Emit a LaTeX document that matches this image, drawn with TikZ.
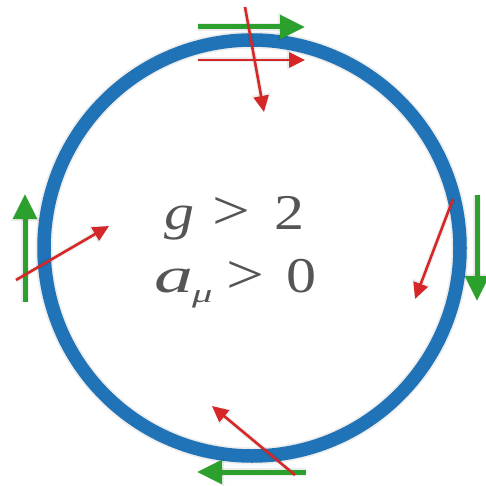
\documentclass[tikz,border=0pt]{standalone}
\usepackage{fontspec}
\setmainfont{Liberation Serif}
\usetikzlibrary{arrows.meta}
\definecolor{ringblue}{HTML}{1F73B6}
\definecolor{arrgreen}{HTML}{2CA02C}
\definecolor{arrred}{HTML}{D62728}
\definecolor{txtgray}{HTML}{555555}
\newcommand{\biggt}{\raisebox{-1pt}{\scalebox{1.12}{>}}}
\tikzset{
  spinarrow/.style={draw=arrgreen, line width=5pt, -{Triangle[length=25pt,width=23pt]}},
  momarrow/.style={draw=arrred, line width=2.6pt, -{Triangle[length=16pt,width=15pt]}},
  shadowline/.style={draw=black, draw opacity=0.07, shift={(1.5pt,-2.5pt)}},
  bigtext/.style={text=txtgray, font=\fontsize{50}{60}\selectfont, anchor=base west, inner sep=0pt}
}
\begin{document}
\begin{tikzpicture}[x=1pt,y=-1pt]
\useasboundingbox (0,0) rectangle (485,486);
\coordinate (c) at (252,248);
\draw[shadowline, line width=17pt] (c) circle[radius=208];
\draw[ringblue, line width=13.5pt] (c) circle[radius=208];
% top
\coordinate (tg1) at (198,27); \coordinate (tg2) at (305,27);
\coordinate (tr1) at (198,60); \coordinate (tr2) at (305,60);
\coordinate (td1) at (245,7); \coordinate (td2) at (264,112);
% left
\coordinate (lg1) at (25,302); \coordinate (lg2) at (25,194);
\coordinate (lr1) at (16,280); \coordinate (lr2) at (109,226);
% right
\coordinate (rg1) at (477,195); \coordinate (rg2) at (477,301);
\coordinate (rr1) at (453,199); \coordinate (rr2) at (415,299);
% bottom
\coordinate (bg1) at (306,472); \coordinate (bg2) at (197,472);
\coordinate (br1) at (295,475); \coordinate (br2) at (212,406);
% shadows
\begin{scope}[shadowline]
\draw[line width=8pt, -{Triangle[length=27pt,width=27pt]}] (tg1) -- (tg2);
\draw[line width=8pt, -{Triangle[length=27pt,width=27pt]}] (lg1) -- (lg2);
\draw[line width=8pt, -{Triangle[length=27pt,width=27pt]}] (rg1) -- (rg2);
\draw[line width=8pt, -{Triangle[length=27pt,width=27pt]}] (bg1) -- (bg2);
\draw[line width=5pt, -{Triangle[length=18pt,width=18pt]}] (tr1) -- (tr2);
\draw[line width=5pt, -{Triangle[length=18pt,width=18pt]}] (td1) -- (td2);
\draw[line width=5pt, -{Triangle[length=18pt,width=18pt]}] (lr1) -- (lr2);
\draw[line width=5pt, -{Triangle[length=18pt,width=18pt]}] (rr1) -- (rr2);
\draw[line width=5pt, -{Triangle[length=18pt,width=18pt]}] (br1) -- (br2);
\end{scope}
% arrows
\draw[spinarrow] (tg1) -- (tg2);
\draw[momarrow] (tr1) -- (tr2);
\draw[momarrow] (td1) -- (td2);
\draw[spinarrow] (lg1) -- (lg2);
\draw[momarrow] (lr1) -- (lr2);
\draw[spinarrow] (rg1) -- (rg2);
\draw[momarrow] (rr1) -- (rr2);
\draw[spinarrow] (bg1) -- (bg2);
\draw[momarrow] (br1) -- (br2);
% text
\node[bigtext] (l1) at (164,229) {\scalebox{1.2}[1]{\textit{g}\hspace{15pt}\biggt\hspace{20pt}2}};
\node[bigtext] (l2) at (154,292) {\scalebox{1.2}[1]{\scalebox{1.3}[1]{\textit{a}}\hspace{-1pt}\raisebox{-10pt}{\scalebox{1.3}[1]{\fontsize{26}{30}\selectfont\textit{μ}}}\hspace{12pt}\biggt\hspace{18pt}0}};
\end{tikzpicture}
\end{document}
